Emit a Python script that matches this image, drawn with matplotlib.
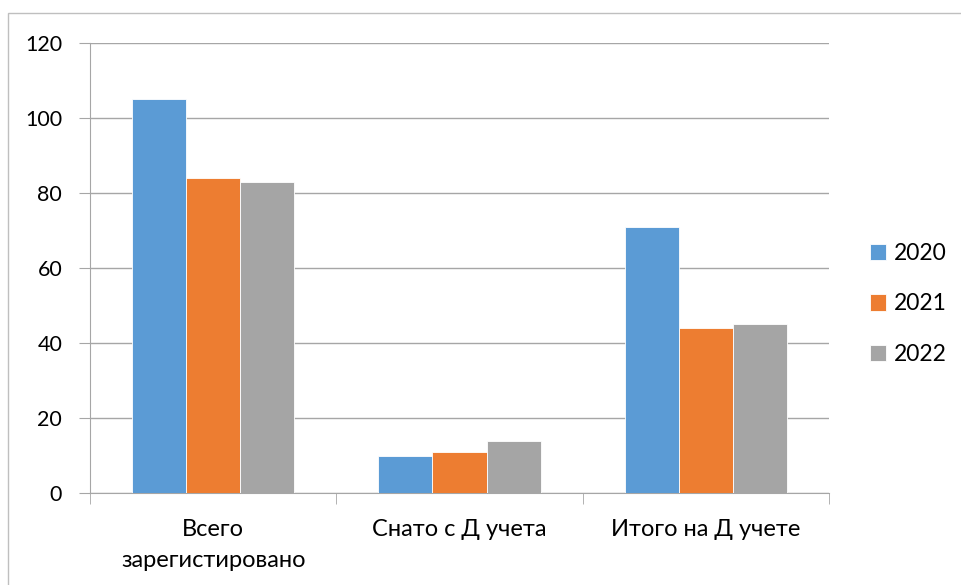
import numpy as np
import matplotlib.pyplot as plt
from matplotlib.patches import Rectangle

plt.rcParams['font.family'] = ['Lato', 'DejaVu Sans']

categories = ['Всего\nзарегистировано', 'Снато с Д учета', 'Итого на Д учете']
years = ['2020', '2021', '2022']
v2020 = [105, 10, 71]
v2021 = [84, 11, 44]
v2022 = [83, 14, 45]
colors = ['#5B9BD5', '#ED7D31', '#A5A5A5']

fig = plt.figure(figsize=(9.61, 5.85), dpi=100)
# outer chart frame
fig.patches.append(Rectangle((8 / 961, -0.1), 1.2, 1 - 13 / 585 + 0.1,
                             transform=fig.transFigure, fill=False,
                             edgecolor='#BFBFBF', linewidth=1))
ax = fig.add_axes([90 / 961, 1 - 493 / 585, (829 - 90) / 961, (493 - 43) / 585])

x = np.arange(len(categories))
w = 0.22
for i, (vals, yr) in enumerate(zip([v2020, v2021, v2022], years)):
    ax.bar(x + (i - 1) * w, vals, w, color=colors[i], label=yr,
           edgecolor='white', linewidth=0.6, zorder=3)

ax.set_xlim(-0.5, 2.5)
ax.set_ylim(0, 120)
ax.set_yticks(range(0, 121, 20))
ax.grid(axis='y', color='#A6A6A6', linewidth=1, zorder=0)
ax.set_axisbelow(True)

for s in ['top', 'right']:
    ax.spines[s].set_visible(False)
ax.spines['left'].set_color('#A6A6A6')
ax.spines['bottom'].set_color('#A6A6A6')

ax.set_xticks(x)
ax.set_xticklabels(categories, fontsize=17, linespacing=1.55)
ax.tick_params(axis='x', length=0, pad=19)
ax.set_xticks([-0.5, 0.5, 1.5, 2.5], minor=True)
ax.tick_params(axis='x', which='minor', length=8, color='#A6A6A6')
ax.tick_params(axis='y', length=8, color='#A6A6A6', labelsize=15.5, pad=12)

leg = fig.legend(loc='center left', bbox_to_anchor=(849 / 961, 1 - 304 / 585),
                 frameon=False, fontsize=16.5, handlelength=0.7, handleheight=0.7,
                 labelspacing=1.3, handletextpad=0.35)

plt.savefig('out.png', dpi=100)
